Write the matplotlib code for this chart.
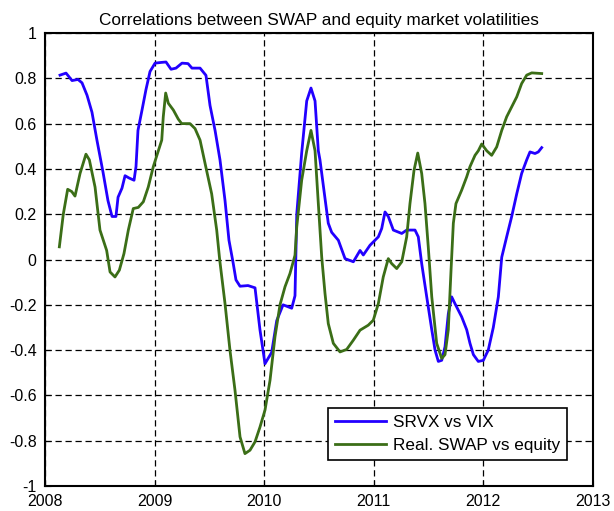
import matplotlib
matplotlib.use("Agg")
import matplotlib.pyplot as plt
from matplotlib.ticker import FormatStrFormatter

OUTPUT_IMAGE_FILE = "out.png"

# SRVX vs VIX (blue): decimal year, correlation
srvx_years = [2008.137, 2008.192, 2008.247, 2008.301, 2008.338, 2008.384, 2008.429, 2008.475,
              2008.530, 2008.575, 2008.612, 2008.648, 2008.667, 2008.703, 2008.731, 2008.767,
              2008.813, 2008.831, 2008.849, 2008.886, 2008.922, 2008.959, 2009.005, 2009.059,
              2009.105, 2009.151, 2009.196, 2009.251, 2009.306, 2009.342, 2009.416, 2009.470,
              2009.507, 2009.553, 2009.598, 2009.644, 2009.680, 2009.717, 2009.744, 2009.781,
              2009.854, 2009.918, 2009.963, 2010.009, 2010.070, 2010.116, 2010.174, 2010.253,
              2010.283, 2010.299, 2010.344, 2010.390, 2010.429, 2010.466, 2010.496, 2010.511,
              2010.557, 2010.587, 2010.618, 2010.679, 2010.740, 2010.816, 2010.877, 2010.907,
              2010.968, 2011.044, 2011.075, 2011.105, 2011.135, 2011.181, 2011.258, 2011.303,
              2011.379, 2011.409, 2011.440, 2011.486, 2011.532, 2011.562, 2011.592, 2011.623,
              2011.653, 2011.683, 2011.714, 2011.744, 2011.805, 2011.851, 2011.881, 2011.912,
              2011.957, 2012.003, 2012.048, 2012.094, 2012.140, 2012.171, 2012.216, 2012.262,
              2012.308, 2012.353, 2012.399, 2012.429, 2012.475, 2012.505, 2012.536]
srvx_corr = [0.814, 0.823, 0.790, 0.795, 0.780, 0.725, 0.650, 0.525,
             0.385, 0.260, 0.190, 0.190, 0.275, 0.315, 0.370, 0.360,
             0.350, 0.410, 0.570, 0.660, 0.750, 0.830, 0.867, 0.870,
             0.872, 0.840, 0.845, 0.867, 0.865, 0.845, 0.845, 0.813,
             0.680, 0.570, 0.440, 0.260, 0.085, -0.012, -0.090, -0.118,
             -0.115, -0.125, -0.310, -0.460, -0.410, -0.270, -0.200, -0.215,
             -0.160, 0.200, 0.470, 0.700, 0.757, 0.700, 0.480, 0.440,
             0.270, 0.160, 0.120, 0.085, 0.004, -0.010, 0.040, 0.020,
             0.063, 0.100, 0.137, 0.210, 0.190, 0.130, 0.115, 0.130,
             0.130, 0.100, -0.018, -0.165, -0.310, -0.400, -0.450, -0.445,
             -0.385, -0.240, -0.165, -0.195, -0.253, -0.310, -0.370, -0.420,
             -0.450, -0.445, -0.400, -0.300, -0.165, 0.010, 0.100, 0.190,
             0.290, 0.380, 0.440, 0.475, 0.468, 0.475, 0.494]

# Realised SWAP vs equity (green)
swap_years = [2008.131, 2008.167, 2008.207, 2008.244, 2008.274, 2008.320, 2008.374, 2008.405,
              2008.457, 2008.502, 2008.563, 2008.594, 2008.639, 2008.679, 2008.721, 2008.761,
              2008.806, 2008.852, 2008.898, 2008.943, 2008.989, 2009.035, 2009.066, 2009.080,
              2009.102, 2009.126, 2009.172, 2009.217, 2009.248, 2009.324, 2009.370, 2009.416,
              2009.477, 2009.522, 2009.568, 2009.595, 2009.644, 2009.689, 2009.735, 2009.781,
              2009.826, 2009.872, 2009.918, 2009.963, 2010.009, 2010.055, 2010.100, 2010.146,
              2010.192, 2010.237, 2010.283, 2010.299, 2010.344, 2010.390, 2010.429, 2010.466,
              2010.496, 2010.527, 2010.557, 2010.587, 2010.633, 2010.694, 2010.755, 2010.816,
              2010.877, 2010.952, 2010.998, 2011.044, 2011.089, 2011.135, 2011.166, 2011.212,
              2011.258, 2011.303, 2011.333, 2011.370, 2011.404, 2011.440, 2011.470, 2011.500,
              2011.532, 2011.577, 2011.623, 2011.653, 2011.683, 2011.708, 2011.729, 2011.753,
              2011.805, 2011.851, 2011.881, 2011.927, 2011.957, 2011.988, 2012.034, 2012.079,
              2012.125, 2012.171, 2012.216, 2012.262, 2012.308, 2012.353, 2012.399, 2012.445,
              2012.536]
swap_corr = [0.056, 0.200, 0.310, 0.300, 0.280, 0.380, 0.465, 0.440,
             0.320, 0.130, 0.040, -0.055, -0.077, -0.047, 0.026, 0.130,
             0.225, 0.230, 0.255, 0.320, 0.410, 0.480, 0.527, 0.630,
             0.735, 0.690, 0.660, 0.620, 0.600, 0.600, 0.578, 0.527,
             0.390, 0.290, 0.130, 0.000, -0.195, -0.400, -0.577, -0.783,
             -0.857, -0.842, -0.805, -0.740, -0.665, -0.533, -0.342, -0.200,
             -0.120, -0.062, 0.019, 0.144, 0.350, 0.480, 0.570, 0.480,
             0.247, 0.011, -0.150, -0.283, -0.370, -0.408, -0.397, -0.356,
             -0.312, -0.290, -0.268, -0.195, -0.077, 0.004, -0.018, -0.040,
             -0.010, 0.100, 0.247, 0.394, 0.470, 0.380, 0.247, 0.056,
             -0.165, -0.370, -0.437, -0.420, -0.310, -0.047, 0.160, 0.247,
             0.306, 0.365, 0.410, 0.460, 0.480, 0.510, 0.480, 0.460,
             0.497, 0.570, 0.630, 0.674, 0.718, 0.777, 0.814, 0.824,
             0.821]

x_ticks = [2008, 2009, 2010, 2011, 2012, 2013]
y_ticks = [-1, -0.8, -0.6, -0.4, -0.2, 0, 0.2, 0.4, 0.6, 0.8, 1]


def main():
    plt.rcParams['font.family'] = ['Liberation Sans', 'DejaVu Sans']
    plt.rcParams['axes.unicode_minus'] = False

    fig = plt.figure(figsize=(6.14, 5.11), dpi=100)
    ax = fig.add_axes([0.0733, 0.0489, 0.8917, 0.8865])

    ax.plot(srvx_years, srvx_corr, color='#2200ff', linewidth=2.0, label='SRVX vs VIX')
    ax.plot(swap_years, swap_corr, color='#3b6e17', linewidth=2.0, label='Real. SWAP vs equity')

    ax.set_xlim(2008, 2013)
    ax.set_ylim(-1, 1)
    ax.set_xticks(x_ticks)
    ax.set_yticks(y_ticks)
    ax.yaxis.set_major_formatter(FormatStrFormatter('%g'))
    ax.tick_params(direction='in', length=4, labelsize=11.5, pad=6)
    ax.grid(True, color='black', linestyle=(0, (5, 3)), linewidth=0.9)

    for spine in ax.spines.values():
        spine.set_linewidth(1.5)

    ax.set_title('Correlations between SWAP and equity market volatilities', fontsize=12.4, pad=6)

    # legend box centred where the reference puts it
    leg = ax.legend(loc='center', bbox_to_anchor=(0.735, 0.115), fontsize=12.3,
                    handlelength=3.0, frameon=True, fancybox=False, framealpha=1,
                    borderpad=0.4, labelspacing=0.5, handletextpad=0.4, borderaxespad=0)
    leg.get_frame().set_edgecolor('black')
    leg.get_frame().set_linewidth(1.2)

    fig.savefig(OUTPUT_IMAGE_FILE, dpi=100)


if __name__ == "__main__":
    main()
